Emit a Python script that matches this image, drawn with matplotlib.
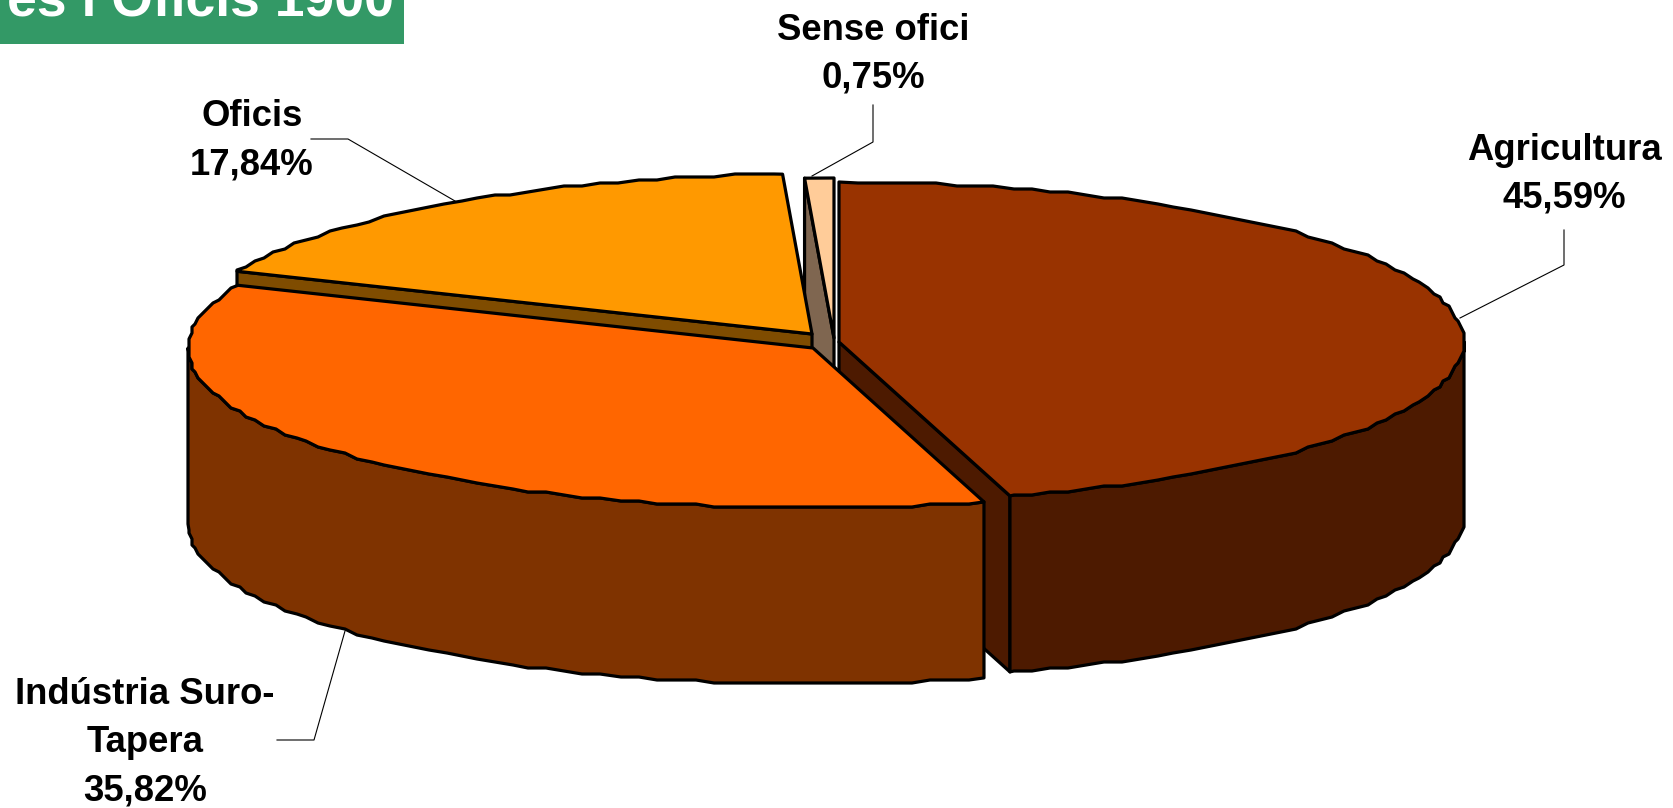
#!/usr/bin/env python3
import numpy as np
import matplotlib
matplotlib.use('Agg')
import matplotlib.pyplot as plt
from matplotlib.patches import Polygon, Rectangle

categories = ['Agricultura', 'Indústria Suro-\nTapera', 'Oficis', 'Sense ofici']
shares = [45.59, 35.82, 17.84, 0.75]
share_labels = ['45,59%', '35,82%', '17,84%', '0,75%']
title = 'es i Oficis 1900'

top_colors = ['#993300', '#FF6600', '#FF9900', '#FFCC99']
wall_colors = ['#4D1A00', '#7F3300', '#7F4C00', '#7F6650']
# apex of each exploded slice, in pixels
apex = [(839, 342), (813, 348), (812, 334), (834, 338)]

RX, RY, DEPTH = 625, 160, 176
STEP = 1.8   # degrees between rim points
GRID = 3.0   # the original rim is a rough polygon, keep it stepped

plt.rcParams['font.family'] = ['Liberation Sans', 'DejaVu Sans']

fig = plt.figure(figsize=(16.74, 8.08), dpi=100)
ax = fig.add_axes([0, 0, 1, 1])
ax.set_xlim(0, 1674)
ax.set_ylim(808, 0)
ax.axis('off')


def point(c, deg):
    a = np.radians(deg)
    return c[0] + RX * np.sin(a), c[1] - RY * np.cos(a)


def rim(c, a0, a1):
    # inner points sit on a fixed angle grid so top and wall rims agree
    pts = [point(c, a0)]
    if a1 - a0 > 5:
        for k in range(int(a0 / STEP) + 1, int(np.ceil(a1 / STEP))):
            x, y = point(c, k * STEP)
            pts.append((round(x / GRID) * GRID, round(y / GRID) * GRID))
    pts.append(point(c, a1))
    return pts


def draw(pts, color, z):
    ax.add_patch(Polygon(pts, closed=True, facecolor=color, edgecolor='black',
                         linewidth=2.3, joinstyle='round', zorder=z))


def extrude(pts):
    return pts + [(x, y + DEPTH) for x, y in reversed(pts)]


# cumulative angles, clockwise from 12 o'clock
edges = np.concatenate([[0], np.cumsum(shares)]) / sum(shares) * 360

# back to front: Sense ofici, Oficis, Agricultura, Industria
z = 2
for i in [3, 2, 0, 1]:
    c = apex[i]
    a0, a1 = edges[i], edges[i + 1]
    # cut face turned to the viewer
    if i in (2, 3):
        draw(extrude([c, point(c, a0)]), wall_colors[i], z)
    if i == 0:
        draw(extrude([c, point(c, a1)]), wall_colors[i], z)
    # outer wall, only the front half of the rim shows
    lo, hi = max(a0, 90), min(a1, 270)
    if lo < hi:
        draw(extrude(rim(c, lo, hi)), wall_colors[i], z)
    draw([c] + rim(c, a0, a1), top_colors[i], z + 1)
    z += 2

# leader lines
leaders = {
    0: [(1460, 318), (1564, 265), (1564, 230)],
    1: [(277, 740), (314, 740), (345, 631)],
    2: [(311, 139), (348, 139), (455, 201)],
    3: [(812, 176), (873, 142), (873, 105)],
}
for pts in leaders.values():
    xs, ys = zip(*pts)
    ax.plot(xs, ys, color='black', lw=0.8, zorder=20)

# labels, centre x and y of the first line
label_pos = [(1564, 150), (145, 695), (252, 117), (873, 30)]
LINE = 48
for name, pct, (x, y) in zip(categories, share_labels, label_pos):
    for k, line in enumerate(name.split('\n') + [pct]):
        ax.text(x, y + k * LINE, line, ha='center', va='center', fontsize=26.3,
                fontweight='bold', color='black', zorder=21)

# title box, cut by the top edge of the picture
ax.add_patch(Rectangle((0, 0), 404, 44, facecolor='#339966', edgecolor='none', zorder=1))
ax.text(394, 16, title, ha='right', va='baseline', fontsize=38.5,
        fontweight='bold', color='white', zorder=2)

fig.savefig('out.png', dpi=100, facecolor='white')
